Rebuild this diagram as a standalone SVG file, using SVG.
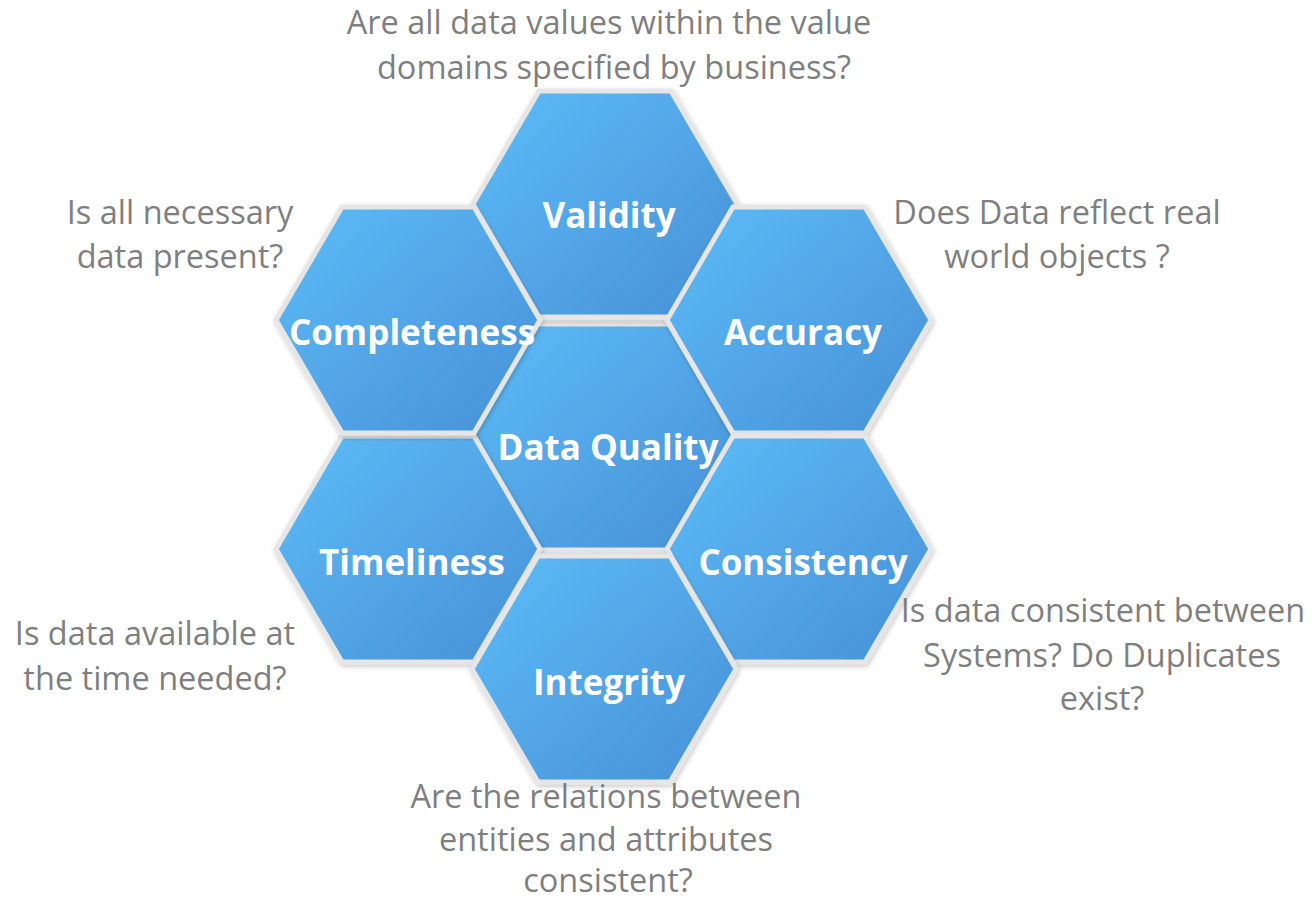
<svg xmlns="http://www.w3.org/2000/svg" width="1312" height="899" viewBox="0 0 1312 899">
  <style>
    .hex { stroke: #e6e6e6; stroke-width: 5; stroke-linejoin: miter; }
    .lbl { font-family: "Open Sans", "Liberation Sans", sans-serif; font-weight: bold; font-size: 35px; fill: #ffffff; text-anchor: middle; }
    .q { font-family: "Open Sans", "Liberation Sans", sans-serif; font-size: 32.5px; fill: #7f7f7f; text-anchor: middle; }
  </style>
  <defs>
    <linearGradient id="blue" x1="0" y1="0" x2="1" y2="1">
      <stop offset="0" stop-color="#5dbcf8"/>
      <stop offset="1" stop-color="#4890d6"/>
    </linearGradient>
    <filter id="shadow" x="-20%" y="-20%" width="140%" height="140%">
      <feDropShadow dx="1" dy="2" stdDeviation="2.5" flood-color="#000000" flood-opacity="0.22"/>
    </filter>
    <polygon id="hexshape" points="-132,0 -66,-113 66,-113 132,0 66,113 -66,113"/>
  </defs>
  <rect x="0" y="0" width="1312" height="899" fill="#ffffff"/>

  <g id="connectors"></g>

  <g id="node-data-quality">
    <use href="#hexshape" x="603" y="437" class="hex" fill="url(#blue)" filter="url(#shadow)"/>
    <text class="lbl" x="608" y="460">Data Quality</text>
  </g>
  <g id="node-validity">
    <use href="#hexshape" x="605" y="204" class="hex" fill="url(#blue)" filter="url(#shadow)"/>
    <text class="lbl" x="609" y="228">Validity</text>
  </g>
  <g id="node-accuracy">
    <use href="#hexshape" x="799" y="320" class="hex" fill="url(#blue)" filter="url(#shadow)"/>
    <text class="lbl" x="803" y="345">Accuracy</text>
  </g>
  <g id="node-timeliness">
    <use href="#hexshape" x="408" y="549" class="hex" fill="url(#blue)" filter="url(#shadow)"/>
    <text class="lbl" x="412" y="575">Timeliness</text>
  </g>
  <g id="node-consistency">
    <use href="#hexshape" x="799" y="549" class="hex" fill="url(#blue)" filter="url(#shadow)"/>
    <text class="lbl" x="803" y="575">Consistency</text>
  </g>
  <g id="node-integrity">
    <use href="#hexshape" x="604" y="669" class="hex" fill="url(#blue)" filter="url(#shadow)"/>
    <text class="lbl" x="609" y="695">Integrity</text>
  </g>
  <g id="node-completeness">
    <use href="#hexshape" x="408" y="320" class="hex" fill="url(#blue)" filter="url(#shadow)"/>
    <text class="lbl" x="412" y="345">Completeness</text>
  </g>

  <g id="q-validity">
    <text class="q" x="609" y="34">Are all data values within the value</text>
    <text class="q" x="614" y="79">domains specified by business?</text>
  </g>
  <g id="q-completeness">
    <text class="q" x="180" y="224">Is all necessary</text>
    <text class="q" x="180" y="268">data present?</text>
  </g>
  <g id="q-accuracy">
    <text class="q" x="1057" y="224">Does Data reflect real</text>
    <text class="q" x="1057" y="268">world objects ?</text>
  </g>
  <g id="q-timeliness">
    <text class="q" x="155" y="645">Is data available at</text>
    <text class="q" x="155" y="690">the time needed?</text>
  </g>
  <g id="q-consistency">
    <text class="q" x="1103" y="622">Is data consistent between</text>
    <text class="q" x="1102" y="667">Systems? Do Duplicates</text>
    <text class="q" x="1102" y="710">exist?</text>
  </g>
  <g id="q-integrity">
    <text class="q" x="606" y="808">Are the relations between</text>
    <text class="q" x="606" y="851">entities and attributes</text>
    <text class="q" x="608" y="892">consistent?</text>
  </g>
</svg>
